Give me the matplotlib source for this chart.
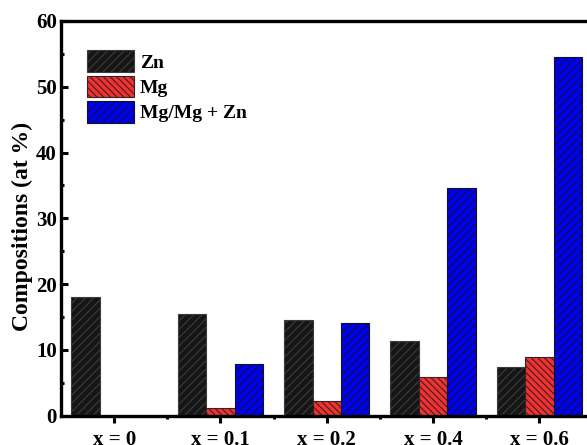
import matplotlib
matplotlib.use("Agg")
import matplotlib.pyplot as plt
import numpy as np
from matplotlib.ticker import MultipleLocator, FixedLocator

categories = ["x = 0", "x = 0.1", "x = 0.2", "x = 0.4", "x = 0.6"]
zn = [18.0, 15.5, 14.6, 11.3, 7.4]
mg = [0.0, 1.2, 2.3, 5.9, 8.9]
ratio = [0.0, 7.8, 14.1, 34.6, 54.6]
series_labels = ["Zn", "Mg", "Mg/Mg + Zn"]

plt.rcParams['font.family'] = ['Liberation Serif', 'DejaVu Serif']
plt.rcParams['font.weight'] = 'bold'
plt.rcParams['hatch.linewidth'] = 0.8

fig = plt.figure(figsize=(5.87, 4.45), dpi=100)
ax = fig.add_axes([61/587, 29.3/445, 531.5/587, 394.7/445])

x = np.arange(len(categories))
w = 0.268
ax.bar(x - w, zn, w, color='#161616', edgecolor='#3c3c3c', hatch='////', linewidth=0.8, label=series_labels[0])
ax.bar(x, mg, w, color='#f23232', edgecolor='#3a2020', hatch='\\\\\\\\\\', linewidth=0.8, label=series_labels[1])
ax.bar(x + w, ratio, w, color='#0000f0', edgecolor='#101030', hatch='////', linewidth=0.8, label=series_labels[2])

ax.set_xlim(-0.5, 4.5)
ax.set_ylim(0, 60)
ax.set_xticks(x)
ax.set_xticklabels(categories, fontsize=15, fontweight='bold')
ax.xaxis.set_minor_locator(FixedLocator(np.arange(0.5, 4.5, 1)))
ax.yaxis.set_major_locator(MultipleLocator(10))
ax.yaxis.set_minor_locator(MultipleLocator(5))
ax.tick_params(axis='y', which='major', direction='in', length=5, width=2.2, labelsize=15, pad=3)
ax.tick_params(axis='y', which='minor', direction='in', length=2.5, width=2.2)
ax.tick_params(axis='x', which='major', direction='out', length=5, width=2.2, labelsize=15, pad=5)
ax.tick_params(axis='x', which='minor', direction='out', length=2.5, width=2.2)
for lab in ax.get_yticklabels():
    lab.set_fontweight('bold')
for s in ax.spines.values():
    s.set_linewidth(2.4)

ax.set_ylabel("Compositions (at %)", fontsize=17, fontweight='bold')
ax.yaxis.set_label_coords(-0.052, 0.48)

ax.legend(loc='upper left', bbox_to_anchor=(0.035, 0.945), frameon=False,
          prop={'family': 'Liberation Serif', 'weight': 'bold', 'size': 14},
          handlelength=2.4, handleheight=1.32, handletextpad=0.3, labelspacing=0.2,
          borderaxespad=0)

fig.savefig("out.png", dpi=100)
